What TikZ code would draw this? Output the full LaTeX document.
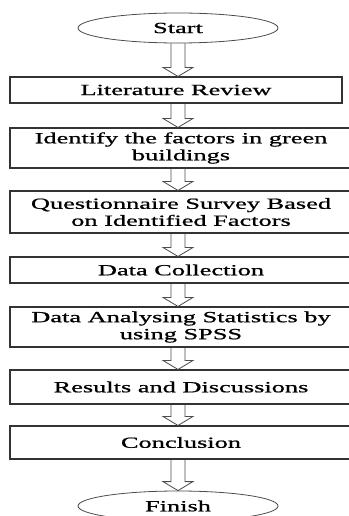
\documentclass[tikz,border=0pt]{standalone}
\usepackage{fontspec}
\setmainfont{Liberation Serif}[FakeStretch=1.7,FakeBold=0.9]
\usetikzlibrary{shapes.geometric,calc}

\begin{document}
\begin{tikzpicture}[x=1pt,y=-1pt,
		font=\fontsize{15.5}{17}\selectfont,
		stepbox/.style={rectangle,draw=black!80,line width=1.1pt,inner sep=0pt,align=center},
		terminal/.style={ellipse,draw=black!70,line width=0.8pt,inner sep=0pt,minimum width=200pt,minimum height=30pt},
		hollowarrow/.style={draw=black!70,line width=0.8pt,to path={
			let \p1=($(\tikztostart.south -| start)$), \p2=($(\tikztotarget.north -| start)$) in
			(\x1-7pt,\y1) -- (\x1-7pt,\y2+9pt) -- (\x1-15pt,\y2+9pt) -- (\x1,\y2)
			-- (\x1+15pt,\y2+9pt) -- (\x1+7pt,\y2+9pt) -- (\x1+7pt,\y1)}}]
		\useasboundingbox (0,0) rectangle (348,516);

		\node at (178,  28) [terminal] (start) {Start};
		\node at (176,  90) [stepbox,minimum width=332pt,minimum height=26pt] (litrev)     {Literature Review};
		\node at (181, 148) [stepbox,minimum width=342pt,minimum height=40pt] (identify)   {Identify the factors in green\\buildings};
		\node at (181, 212) [stepbox,minimum width=342pt,minimum height=42pt] (survey)     {Questionnaire Survey Based\\on Identified Factors};
		\node at (181, 270) [stepbox,minimum width=342pt,minimum height=26pt] (collection) {Data Collection};
		\node at (181, 327) [stepbox,minimum width=342pt,minimum height=40pt] (analysis)   {Data Analysing Statistics by\\using SPSS};
		\node at (181, 387) [stepbox,minimum width=342pt,minimum height=34pt] (results)    {Results and Discussions};
		\node at (181,442.5)[stepbox,minimum width=342pt,minimum height=33pt] (conclusion) {Conclusion};
		\node at (178, 506) [terminal] (finish) {Finish};

		\draw[hollowarrow] (start)      to (litrev);
		\draw[hollowarrow] (litrev)     to (identify);
		\draw[hollowarrow] (identify)   to (survey);
		\draw[hollowarrow] (survey)     to (collection);
		\draw[hollowarrow] (collection) to (analysis);
		\draw[hollowarrow] (analysis)   to (results);
		\draw[hollowarrow] (results)    to (conclusion);
		\draw[hollowarrow] (conclusion) to (finish);
	\end{tikzpicture}
\end{document}
